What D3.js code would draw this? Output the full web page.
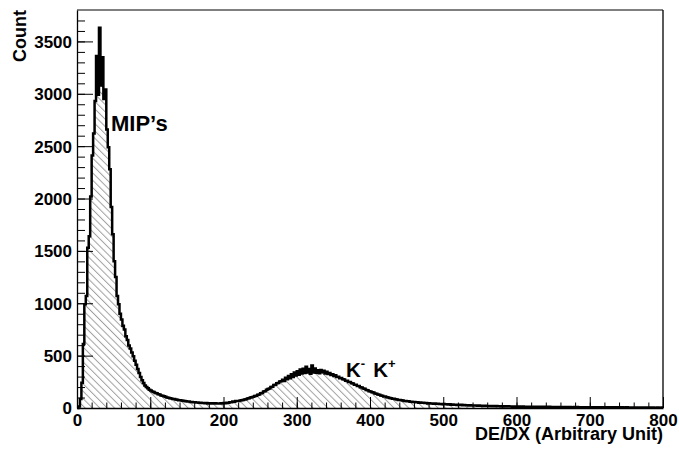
<!DOCTYPE html>
<html>
<head>
<meta charset="utf-8">
<script src="https://cdn.jsdelivr.net/npm/d3@7"></script>
<style>
  html, body { margin: 0; padding: 0; background: #fff; }
  svg { display: block; }
  text { font-family: "Liberation Sans", Arial, Helvetica, sans-serif; font-weight: bold; fill: #000; }
</style>
</head>
<body>
<svg id="chart" width="679" height="452"></svg>
<script>
// dE/dx histogram: 400 bins of width 2 from 0 to 800
const binLow = 0;
const binWidth = 2;
const counts = [
  0, 15, 85, 240, 610, 990, 1070, 1530, 1640, 2020,
  2410, 2620, 2930, 3360, 2990, 3630, 3080, 3350, 2950, 3040,
  2660, 2490, 2280, 1920, 1660, 1400, 1250, 1070, 990, 900,
  845, 785, 750, 685, 650, 596, 568, 530, 494, 452,
  414, 372, 334, 296, 265, 238, 216, 201, 188, 174,
  168, 158, 152, 144, 142, 131, 129, 120, 118, 111,
  108, 100, 99, 92, 91, 86, 85, 80, 79, 75,
  74, 71, 70, 66, 65, 61, 61, 58, 58, 55,
  55, 52, 52, 49, 50, 47, 48, 46, 47, 44,
  46, 43, 45, 42, 45, 42, 44, 43, 45, 44,
  48, 46, 51, 50, 55, 54, 61, 60, 67, 66,
  68, 71, 74, 76, 81, 84, 90, 92, 100, 103,
  107, 114, 116, 126, 129, 141, 144, 158, 160, 175,
  182, 186, 201, 203, 220, 222, 236, 238, 253, 255,
  270, 258, 290, 275, 305, 284, 322, 296, 340, 310,
  352, 318, 368, 330, 375, 335, 395, 340, 372, 328,
  405, 338, 376, 336, 360, 332, 364, 342, 355, 330,
  345, 325, 335, 314, 322, 305, 312, 296, 298, 284,
  286, 274, 273, 260, 261, 249, 248, 236, 235, 223,
  222, 211, 209, 198, 196, 186, 183, 173, 170, 161,
  158, 150, 147, 139, 136, 129, 126, 119, 117, 110,
  109, 103, 101, 96, 94, 89, 88, 83, 82, 77,
  77, 73, 72, 68, 68, 64, 64, 60, 60, 57,
  58, 54, 55, 51, 52, 49, 50, 47, 47, 44,
  46, 43, 44, 41, 43, 40, 41, 38, 39, 36,
  38, 35, 36, 34, 35, 32, 33, 31, 32, 29,
  31, 28, 30, 27, 28, 26, 27, 25, 26, 23,
  25, 23, 24, 22, 23, 21, 22, 20, 21, 19,
  20, 18, 19, 17, 19, 17, 18, 16, 17, 15,
  16, 15, 17, 14, 16, 14, 15, 13, 15, 13,
  14, 13, 14, 13, 14, 12, 13, 12, 13, 12,
  13, 12, 12, 11, 12, 11, 12, 11, 11, 10,
  11, 10, 11, 10, 10, 9, 10, 9, 10, 9,
  9, 10, 8, 9, 9, 8, 9, 8, 8, 9,
  8, 9, 7, 8, 8, 7, 8, 7, 8, 7,
  8, 7, 7, 8, 6, 7, 7, 6, 7, 6,
  7, 6, 6, 7, 5, 6, 6, 5, 6, 5,
  6, 5, 6, 5, 5, 6, 4, 5, 5, 4,
  5, 4, 5, 4, 4, 5, 4, 4, 3, 4,
  4, 3, 4, 4, 3, 3, 4, 3, 3, 4
];

const xDomain = [0, 800];
const yDomain = [0, 3800];
const xMajorTicks = [0, 100, 200, 300, 400, 500, 600, 700, 800];
const xMinorTicks = d3.range(0, 801, 20);
const yMajorTicks = [0, 500, 1000, 1500, 2000, 2500, 3000, 3500];
const yMinorTicks = d3.range(0, 3701, 100);

const xTitle = "DE/DX (Arbitrary Unit)";
const yTitle = "Count";
const peakLabel = "MIP\u2019s";

const frame = { left: 77, right: 663, top: 10, bottom: 408 };

const svg = d3.select("#chart");

const x = d3.scaleLinear().domain(xDomain).range([frame.left, frame.right]);
const y = d3.scaleLinear().domain(yDomain).range([frame.bottom, frame.top]);
const plainInt = d3.format("d");

// diagonal hatch for the histogram fill
const defs = svg.append("defs");
const hatch = defs.append("pattern")
  .attr("id", "hatch")
  .attr("patternUnits", "userSpaceOnUse")
  .attr("width", 5.2)
  .attr("height", 10)
  .attr("patternTransform", "rotate(-45)");
hatch.append("line")
  .attr("x1", 0.5).attr("y1", 0)
  .attr("x2", 0.5).attr("y2", 10)
  .attr("stroke", "#a0a0a0")
  .attr("stroke-width", 1);

// step outline points of the histogram
const stepPoints = [[binLow, 0]];
counts.forEach((c, i) => {
  const lo = binLow + i * binWidth;
  stepPoints.push([lo, c], [lo + binWidth, c]);
});

const areaGen = d3.area()
  .x(d => x(d[0]))
  .y0(y(0))
  .y1(d => y(d[1]));

const lineGen = d3.line()
  .x(d => x(d[0]))
  .y(d => y(d[1]));

svg.append("path")
  .datum(stepPoints)
  .attr("d", areaGen)
  .attr("fill", "url(#hatch)")
  .attr("stroke", "none");

svg.append("path")
  .datum(stepPoints)
  .attr("d", lineGen)
  .attr("fill", "none")
  .attr("stroke", "#000")
  .attr("stroke-width", 2.5)
  .attr("stroke-linejoin", "miter");

// frame top and right edges
svg.append("line")
  .attr("x1", frame.left).attr("x2", frame.right)
  .attr("y1", frame.top).attr("y2", frame.top)
  .attr("stroke", "#000").attr("stroke-width", 1);
svg.append("line")
  .attr("x1", frame.right).attr("x2", frame.right)
  .attr("y1", frame.top).attr("y2", frame.bottom)
  .attr("stroke", "#000").attr("stroke-width", 1.3);

// y axis: minor then major ticks, drawn inward
svg.append("g")
  .attr("transform", `translate(${frame.left},0)`)
  .call(d3.axisLeft(y).tickValues(yMinorTicks).tickSize(-8).tickSizeOuter(0).tickFormat(""))
  .call(g => g.select(".domain").remove());

const yAxisG = svg.append("g")
  .attr("transform", `translate(${frame.left},0)`)
  .call(d3.axisLeft(y).tickValues(yMajorTicks).tickFormat(plainInt)
    .tickSize(-16).tickSizeOuter(0).tickPadding(5));
yAxisG.select(".domain").attr("stroke-width", 1.3);
yAxisG.selectAll("text")
  .attr("font-size", 17)
  .attr("font-family", null)
  .attr("dy", "0.35em");

// x axis: minor then major ticks, drawn inward
svg.append("g")
  .attr("transform", `translate(0,${frame.bottom})`)
  .call(d3.axisBottom(x).tickValues(xMinorTicks).tickSize(-5.5).tickSizeOuter(0).tickFormat(""))
  .call(g => g.select(".domain").remove());

const xAxisG = svg.append("g")
  .attr("transform", `translate(0,${frame.bottom})`)
  .call(d3.axisBottom(x).tickValues(xMajorTicks).tickFormat(plainInt)
    .tickSize(-11).tickSizeOuter(0).tickPadding(6));
xAxisG.select(".domain").attr("stroke-width", 1.3);
xAxisG.selectAll("text")
  .attr("font-size", 17)
  .attr("font-family", null)
  .attr("dy", "0.71em");

// axis titles
svg.append("text")
  .attr("x", frame.right)
  .attr("y", 439.5)
  .attr("text-anchor", "end")
  .attr("font-size", 18)
  .text(xTitle);

svg.append("text")
  .attr("transform", `translate(26,${frame.top}) rotate(-90)`)
  .attr("text-anchor", "end")
  .attr("font-size", 18)
  .text(yTitle);

// peak annotations
svg.append("text")
  .attr("x", 111)
  .attr("y", 131)
  .attr("font-size", 22)
  .text(peakLabel);

const kaon = svg.append("text")
  .attr("x", 346)
  .attr("y", 377)
  .attr("font-size", 20.5);
kaon.append("tspan").text("K");
kaon.append("tspan").attr("font-size", 13).attr("dy", -9).text("-");
kaon.append("tspan").attr("dy", 9).attr("dx", 8).text("K");
kaon.append("tspan").attr("font-size", 13).attr("dy", -9.5).text("+");
</script>
</body>
</html>
